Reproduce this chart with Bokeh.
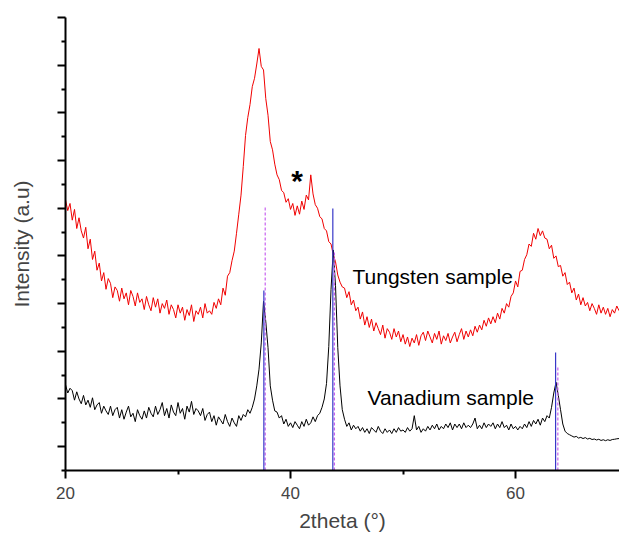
import numpy as np
from bokeh.plotting import figure
from bokeh.models import FixedTicker, Label, BoxAnnotation
from bokeh.embed import file_html
from bokeh.resources import INLINE

# ---- data ----
x_start = 20.0
x_step = 0.2

tungsten = [
    11.35, 10.90, 11.20, 10.50, 10.95,
    10.15, 10.60, 10.05, 9.75, 10.20,
    9.30, 9.70, 8.85, 9.20, 8.40,
    8.70, 7.95, 8.30, 7.60, 8.05,
    7.85, 7.25, 7.70, 7.55, 7.10,
    7.65, 7.20, 7.45, 6.95, 7.55,
    7.30, 6.90, 7.45, 7.05, 7.20,
    6.75, 7.30, 6.95, 6.70, 7.25,
    6.85, 7.20, 6.60, 7.00, 6.80,
    7.15, 6.55, 6.95, 6.75, 6.40,
    6.95, 6.60, 6.85, 6.30, 6.75,
    6.50, 6.95, 6.25, 6.70, 6.55,
    6.85, 6.40, 7.00, 6.60, 6.70,
    6.55, 7.05, 6.80, 7.20, 6.95,
    7.65, 7.35, 8.15, 8.30, 8.80,
    9.20, 9.95, 10.75, 11.55, 12.75,
    14.05, 14.80, 15.35, 16.10, 16.45,
    17.05, 17.70, 16.95, 16.80, 15.60,
    14.90, 13.80, 13.45, 12.85, 12.40,
    12.20, 11.75, 11.65, 11.25, 11.40,
    10.95, 11.20, 10.70, 11.10, 10.75,
    11.30, 10.95, 11.55, 11.35, 12.40,
    11.60, 11.15, 11.00, 10.65, 10.55,
    10.15, 10.05, 9.60, 9.50, 9.05,
    8.75, 8.20, 7.90, 7.70, 7.65,
    7.25, 7.50, 6.95, 7.15, 6.70,
    6.85, 6.35, 6.65, 6.10, 6.45,
    6.00, 6.35, 5.85, 6.20, 5.95,
    5.70, 6.10, 5.55, 5.95, 5.80,
    5.50, 5.95, 5.60, 5.85, 5.40,
    5.70, 5.30, 5.60, 5.20, 5.55,
    5.35, 5.70, 5.25, 5.65, 5.80,
    5.45, 5.85, 5.60, 5.35, 5.75,
    5.50, 5.85, 5.30, 5.65, 5.45,
    5.75, 5.35, 5.60, 5.80, 5.40,
    5.70, 5.95, 5.50, 5.85, 5.60,
    5.90, 5.65, 6.05, 5.80, 6.10,
    5.90, 6.30, 6.05, 6.40, 6.15,
    6.45, 6.20, 6.60, 6.35, 6.80,
    6.60, 7.00, 6.85, 7.30, 7.45,
    7.95, 7.70, 8.35, 8.40, 8.85,
    9.05, 9.50, 9.40, 9.95, 9.70,
    10.15, 9.85, 10.05, 9.75, 9.70,
    9.30, 9.45, 8.90, 9.00, 8.55,
    8.60, 8.15, 8.30, 7.80, 7.90,
    7.45, 7.65, 7.15, 7.40, 6.95,
    7.25, 6.90, 7.05, 6.70, 7.00,
    6.80, 6.55, 6.95, 6.60, 6.85,
    6.55, 6.80, 6.45, 6.75, 6.60,
    6.90, 6.70,
]

vanadium = [
    3.60, 3.25, 3.45, 3.35, 2.95,
    3.30, 3.00, 2.80, 3.15, 2.75,
    2.95, 2.65, 3.05, 2.55, 2.75,
    2.85, 2.40, 2.70, 2.50, 2.35,
    2.70, 2.30, 2.55, 2.65, 2.20,
    2.55, 2.15, 2.45, 2.70, 2.25,
    2.40, 2.05, 2.55, 2.30, 2.15,
    2.50, 2.20, 2.65, 2.40, 2.25,
    2.70, 2.35, 2.55, 2.85, 2.30,
    2.60, 2.20, 2.75, 2.45, 2.30,
    2.85, 2.40, 2.60, 2.15, 2.70,
    2.45, 2.90, 2.35, 2.60, 2.50,
    2.30, 2.60, 2.10, 2.35, 2.45,
    2.05, 2.30, 1.90, 2.25, 2.10,
    1.95, 2.35, 2.05, 1.85, 2.20,
    2.00, 1.85, 2.30, 2.10, 2.35,
    2.25, 2.55, 2.40, 2.65, 3.00,
    3.55, 4.25, 5.35, 7.10, 6.25,
    5.15, 3.55, 2.95, 2.50, 2.45,
    2.20, 2.30, 1.95, 2.15, 1.85,
    2.00, 1.80, 2.05, 1.90, 1.75,
    2.05, 1.85, 2.15, 1.90, 2.00,
    2.25, 2.05, 2.30, 2.40, 2.65,
    3.00, 3.65, 5.20, 7.60, 9.25,
    7.75, 5.15, 3.55, 2.55, 2.15,
    1.85, 2.00, 1.70, 1.90, 1.75,
    1.85, 1.65, 1.80, 1.60, 1.75,
    1.55, 1.80, 1.70, 1.60, 1.85,
    1.65, 1.55, 1.75, 1.60, 1.70,
    1.55, 1.75, 1.60, 1.80, 1.65,
    1.70, 1.60, 1.80, 1.65, 1.75,
    2.30, 1.70, 1.85, 1.60, 1.75,
    1.65, 1.85, 1.70, 1.90, 1.75,
    1.95, 1.70, 1.85, 1.75, 1.95,
    1.80, 2.00, 1.70, 1.95, 1.80,
    1.95, 1.75, 2.00, 1.80, 1.90,
    1.80, 1.95, 2.20, 1.75, 1.90,
    1.75, 2.00, 1.80, 1.95, 1.85,
    2.00, 1.75, 1.95, 1.80, 2.05,
    1.80, 1.90, 1.70, 1.95, 1.75,
    1.85, 1.70, 1.85, 1.75, 1.95,
    1.80, 2.05, 1.85, 2.10, 1.95,
    2.15, 1.90, 2.20, 2.05, 2.30,
    2.20, 2.65, 3.25, 3.70, 3.15,
    2.55, 1.95, 1.65, 1.55, 1.50,
    1.45, 1.40, 1.43, 1.36, 1.39,
    1.34, 1.38, 1.32, 1.35, 1.30,
    1.32, 1.28, 1.31, 1.26, 1.29,
    1.25, 1.29, 1.26, 1.30, 1.31,
    1.33, 1.34,
]

# reference reflections (solid blue and dashed violet sticks)
ref_blue_x = [37.63, 43.76, 63.56]
ref_blue_top = [7.55, 10.99, 4.95]
ref_pink_x = [37.75, 43.90, 63.76]
ref_pink_top = [11.03, 9.23, 4.32]

x_major_ticks = [20, 40, 60]
x_minor_ticks = [30, 50]
y_major_ticks = [1, 3, 5, 7, 9, 11, 13, 15, 17, 19]
y_minor_ticks = [0, 2, 4, 6, 8, 10, 12, 14, 16, 18]

two_theta = np.round(x_start + x_step * np.arange(len(tungsten)), 2)

FONT = "Liberation Sans"

p = figure(width=619, height=535, output_backend="svg", toolbar_location=None,
           x_range=(20, 69.24), y_range=(0, 19),
           min_border_left=65, min_border_right=0, min_border_top=17,
           min_border_bottom=65)
p.outline_line_color = None
p.xgrid.visible = False
p.ygrid.visible = False
p.background_fill_color = "white"

p.line(two_theta, tungsten, line_color="#f00000", line_width=1)
p.line(two_theta, vanadium, line_color="black", line_width=1)

p.segment(x0=ref_pink_x, y0=[0] * 3, x1=ref_pink_x, y1=ref_pink_top,
          line_color="#c860f0", line_width=1.2, line_dash="3 2")
p.segment(x0=ref_blue_x, y0=[0] * 3, x1=ref_blue_x, y1=ref_blue_top,
          line_color="#3838c8", line_width=1.2)

for ax in (p.xaxis[0], p.yaxis[0]):
    ax.axis_line_width = 2
    ax.axis_line_color = "black"
    ax.major_tick_line_width = 2
    ax.minor_tick_line_width = 2
    ax.major_tick_in = 0
    ax.major_tick_out = 8
    ax.minor_tick_in = 0
    ax.minor_tick_out = 4
    ax.axis_label_text_font = FONT
    ax.axis_label_text_font_style = "normal"
    ax.axis_label_text_font_size = "21px"
    ax.major_label_text_font = FONT
    ax.major_label_text_font_size = "17px"

p.xaxis.ticker = FixedTicker(ticks=x_major_ticks, minor_ticks=x_minor_ticks)
p.yaxis.ticker = FixedTicker(ticks=y_major_ticks, minor_ticks=y_minor_ticks)
p.xaxis.axis_label = "2theta (°)"
p.xaxis.major_label_standoff = 8
p.xaxis.axis_label_standoff = 7
p.yaxis.axis_label = "Intensity (a.u)"
p.yaxis.major_label_overrides = {t: "" for t in y_major_ticks}
p.yaxis.major_label_standoff = 0
p.yaxis.axis_label_standoff = 25

p.add_layout(Label(x=45.51, y=8.14, text="Tungsten sample", text_font=FONT,
                   text_font_size="21px", text_baseline="alphabetic",
                   text_color="black"))
p.add_layout(Label(x=46.84, y=3.07, text="Vanadium sample", text_font=FONT,
                   text_font_size="21px", text_baseline="alphabetic",
                   text_color="black"))
p.add_layout(Label(x=40.58, y=12.16, text="*", text_font=FONT,
                   text_font_size="30px", text_font_style="bold",
                   text_align="center", text_baseline="alphabetic",
                   text_color="black"))

# grey strip along the top edge of the page, as in the reference
p.add_layout(BoxAnnotation(left=0, right=619, top=0, bottom=5,
                           left_units="canvas", right_units="canvas",
                           top_units="canvas", bottom_units="canvas",
                           fill_color="#c0c0c0", fill_alpha=1.0,
                           line_color=None, level="overlay"))

open("out.html", "w").write(file_html(p, INLINE))
